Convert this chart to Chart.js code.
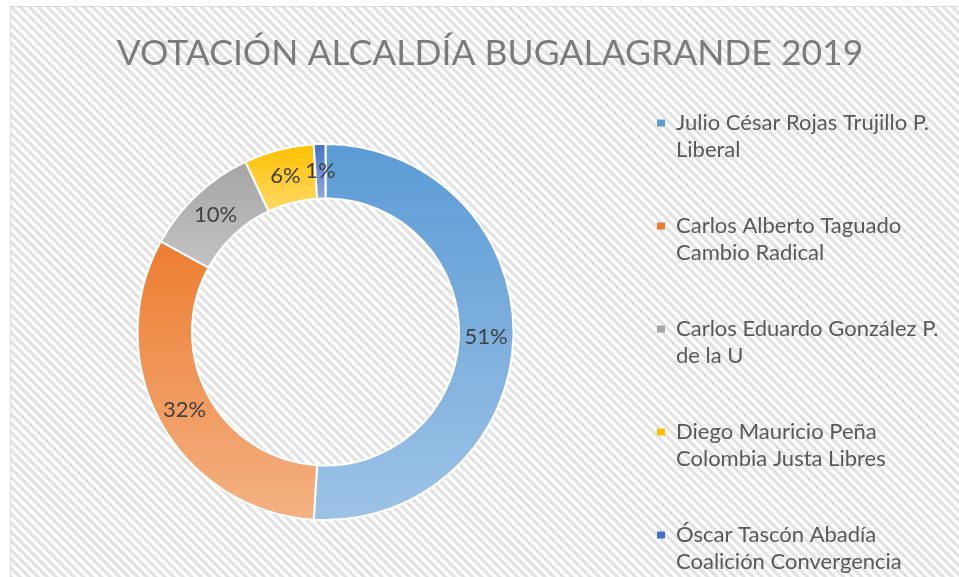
<!DOCTYPE html>
<html>
<head>
<meta charset="utf-8">
<script src="https://cdn.jsdelivr.net/npm/chart.js@4"></script>
<style>
    html, body { margin: 0; padding: 0; background: #fff; overflow: hidden; }
    #marco {
        position: absolute; left: 10px; top: 6px;
        width: 960px; height: 630px;
        border: 1px solid #d9d9d9;
        background: repeating-linear-gradient(45deg, #fff 0px, #fff 1.6px, #e1e1e1 3.2px, #e1e1e1 4.8px, #fff 6.4px);
    }
    #grafico { position: absolute; left: 0; top: 0; }
</style>
</head>
<body>
<div id="marco">
    <canvas id="grafico" width="948" height="620"></canvas>
</div>
<script>
// datos
var candidatos = ['Julio César Rojas Trujillo P.', 'Carlos Alberto Taguado', 'Carlos Eduardo González P.', 'Diego Mauricio Peña', 'Óscar Tascón Abadía'];
var partidos = ['Liberal', 'Cambio Radical', 'de la U', 'Colombia Justa Libres', 'Coalición Convergencia'];
var votos = [51, 32, 10, 6, 1];

var coloresArriba = ['#5b9bd5', '#ed7d31', '#a5a5a5', '#ffc000', '#4472c4'];
var coloresAbajo = ['#9dc3e6', '#f4b183', '#c3c3c3', '#ffd966', '#8faadc'];

var RADIO = 188;
var CORTE = 0.71;

// degradado vertical por cada porcion (como en Excel)
function degradado(context) {
    var chart = context.chart;
    var area = chart.chartArea;
    var i = context.dataIndex;
    if (!area) {
        return coloresArriba[i];
    }
    var datos = context.dataset.data;
    var total = datos.reduce(function (a, b) { return a + b; }, 0);
    var inicio = 0;
    for (var k = 0; k < i; k++) inicio += datos[k];
    var a0 = inicio / total * 2 * Math.PI;
    var a1 = (inicio + datos[i]) / total * 2 * Math.PI;
    var cy = (area.top + area.bottom) / 2;
    var arriba = Infinity, abajo = -Infinity;
    for (var s = 0; s <= 60; s++) {
        var a = a0 + (a1 - a0) * s / 60;
        [RADIO, RADIO * CORTE].forEach(function (r) {
            var y = cy - r * Math.cos(a);
            arriba = Math.min(arriba, y);
            abajo = Math.max(abajo, y);
        });
    }
    var g = chart.ctx.createLinearGradient(0, arriba, 0, abajo);
    g.addColorStop(0, coloresArriba[i]);
    g.addColorStop(1, coloresAbajo[i]);
    return g;
}

// porcentajes sobre cada porcion
var etiquetas = {
    id: 'etiquetas',
    afterDatasetsDraw: function (chart) {
        var ctx = chart.ctx;
        var meta = chart.getDatasetMeta(0);
        var datos = chart.data.datasets[0].data;
        var total = datos.reduce(function (a, b) { return a + b; }, 0);
        ctx.save();
        ctx.font = '22px Lato';
        ctx.fillStyle = '#404040';
        ctx.textAlign = 'center';
        ctx.textBaseline = 'middle';
        meta.data.forEach(function (arco, i) {
            var p = arco.tooltipPosition();
            ctx.fillText(Math.round(datos[i] / total * 100) + '%', p.x, p.y);
        });
        ctx.restore();
    }
};

Chart.defaults.font.family = 'Lato';

new Chart(document.getElementById('grafico').getContext('2d'), {
    type: 'doughnut',
    data: {
        labels: candidatos.map(function (c, i) { return [c, partidos[i]]; }),
        datasets: [{
            data: votos,
            backgroundColor: degradado,
            borderColor: '#ffffff',
            borderWidth: 2,
            radius: RADIO,
            cutout: (CORTE * 100) + '%'
        }]
    },
    options: {
        responsive: false,
        animation: false,
        devicePixelRatio: 1,
        events: [],
        layout: { padding: { left: 32, right: 22, top: 0, bottom: 0 } },
        plugins: {
            title: {
                display: true,
                text: 'VOTACIÓN ALCALDÍA BUGALAGRANDE 2019',
                color: '#7b7b7b',
                font: { size: 35.5, weight: 'normal', lineHeight: 1.2 },
                padding: { top: 25, bottom: 21 }
            },
            subtitle: {
                // solo reserva espacio abajo del anillo
                display: true,
                text: '',
                position: 'bottom',
                fullSize: false,
                font: { size: 10, lineHeight: 1 },
                padding: { top: 0, bottom: 48.6 }
            },
            legend: {
                position: 'right',
                align: 'end',
                maxWidth: 329,
                labels: {
                    boxWidth: 8,
                    boxHeight: 7,
                    padding: 49,
                    color: '#595959',
                    font: { size: 22, lineHeight: 1.227 },
                    generateLabels: function () {
                        return candidatos.map(function (c, i) {
                            return {
                                text: [c, partidos[i]],
                                fillStyle: coloresArriba[i],
                                strokeStyle: coloresArriba[i],
                                lineWidth: 0,
                                fontColor: '#595959',
                                hidden: false,
                                index: i
                            };
                        });
                    }
                }
            },
            tooltip: { enabled: false }
        }
    },
    plugins: [etiquetas]
});
</script>
</body>
</html>
